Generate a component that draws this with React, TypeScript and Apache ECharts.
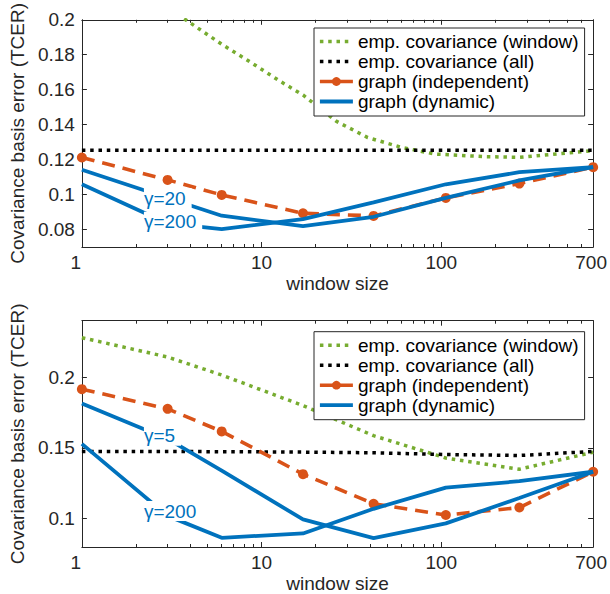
import React, { useEffect, useRef } from "react";
import * as echarts from "echarts";

const FONT = "'Liberation Sans', Arial, Helvetica, sans-serif";
const AXIS_COLOR = "#262626";
const GREEN = "#77AC30";
const BLACK = "#000000";
const ORANGE = "#D95319";
const BLUE = "#0072BD";

const windowSizes = [1, 3, 6, 17, 42, 106, 272, 700];
const xMajorTicks = [1, 10, 100, 700];
const xMinorTicks = [2, 3, 4, 5, 6, 7, 8, 9, 20, 30, 40, 50, 60, 70, 80, 90, 200, 300, 400, 500, 600];

const legendNames = [
  "emp. covariance (window)",
  "emp. covariance (all)",
  "graph (independent)",
  "graph (dynamic)",
];

// top panel
const topYTicks = [0.08, 0.1, 0.12, 0.14, 0.16, 0.18, 0.2];
const topGreenX = [1, 3, 6, 8.6, 12.6, 17, 26, 39, 60, 92, 173, 272, 700];
const topGreen = [0.232, 0.207, 0.186, 0.176, 0.165, 0.157, 0.142, 0.1326, 0.127, 0.1232, 0.1217, 0.1213, 0.1251];
const topAll = [0.1254, 0.1254, 0.1254, 0.1254, 0.1254, 0.1254, 0.1254, 0.1254];
const topIndep = [0.1212, 0.1084, 0.0998, 0.0893, 0.0878, 0.0981, 0.1063, 0.1157];
const topDynA = [0.1142, 0.098, 0.0879, 0.082, 0.0873, 0.0981, 0.1081, 0.1157];
const topDynB = [0.1059, 0.0835, 0.0802, 0.086, 0.0955, 0.1059, 0.1128, 0.1157];
const topLabels = [
  { text: "γ=20", x: 2.2, y: 0.098 },
  { text: "γ=200", x: 2.2, y: 0.0845 },
];

// bottom panel
const botYTicks = [0.1, 0.15, 0.2];
const botGreen = [0.228, 0.2143, 0.2016, 0.18, 0.1587, 0.1429, 0.135, 0.147];
const botAll = [0.1475, 0.1475, 0.1474, 0.1471, 0.1466, 0.1454, 0.1447, 0.1476];
const botIndep = [0.1916, 0.1777, 0.1617, 0.1315, 0.1106, 0.1026, 0.1079, 0.1332];
const botDynA = [0.1814, 0.1564, 0.134, 0.0995, 0.0863, 0.0967, 0.1146, 0.1332];
const botDynB = [0.1529, 0.102, 0.0865, 0.0896, 0.107, 0.122, 0.1265, 0.1332];
const botLabels = [
  { text: "γ=5", x: 2.2, y: 0.1587 },
  { text: "γ=200", x: 2.2, y: 0.1054 },
];

const zip = (xs: number[], ys: number[]) => xs.map((x, i) => [x, ys[i]]);
const fmtNum = (v: number) => String(parseFloat(Number(v).toFixed(3)));
const TICK_FONT = 19;
const DOTTED = [3.5, 4.8];

function xAxesFor(grid: number) {
  const base = {
    gridIndex: grid,
    type: "log",
    logBase: 10,
    min: 1,
    max: 700,
    splitLine: { show: false },
    minorTick: { show: false },
  };
  return [
    {
      ...base,
      position: "bottom",
      name: "window size",
      nameLocation: "middle",
      nameGap: 27,
      nameTextStyle: { fontFamily: FONT, fontSize: TICK_FONT, color: AXIS_COLOR },
      axisLine: { show: true, onZero: false, lineStyle: { color: AXIS_COLOR, width: 1 } },
      axisTick: { show: true, inside: true, length: 5, customValues: xMajorTicks, lineStyle: { color: AXIS_COLOR } },
      axisLabel: {
        show: true,
        customValues: xMajorTicks,
        margin: 6,
        fontFamily: FONT,
        fontSize: TICK_FONT,
        color: AXIS_COLOR,
        formatter: (v: number) => {
          const r = Math.round(v);
          if (r === 1) return "{one|1}";
          if (r === 700) return "{end|700}";
          return String(r);
        },
        rich: {
          one: { fontFamily: FONT, fontSize: TICK_FONT, color: AXIS_COLOR, padding: [0, 12, 0, 0] },
          end: { fontFamily: FONT, fontSize: TICK_FONT, color: AXIS_COLOR, padding: [0, 4, 0, 0] },
        },
      },
    },
    {
      ...base,
      position: "bottom",
      axisLine: { show: false, onZero: false },
      axisTick: { show: true, inside: true, length: 3, customValues: xMinorTicks, lineStyle: { color: AXIS_COLOR } },
      axisLabel: { show: false },
    },
    {
      ...base,
      position: "top",
      axisLine: { show: true, onZero: false, lineStyle: { color: AXIS_COLOR, width: 1 } },
      axisTick: { show: true, inside: true, length: 5, customValues: xMajorTicks, lineStyle: { color: AXIS_COLOR } },
      axisLabel: { show: false },
    },
    {
      ...base,
      position: "top",
      axisLine: { show: false, onZero: false },
      axisTick: { show: true, inside: true, length: 3, customValues: xMinorTicks, lineStyle: { color: AXIS_COLOR } },
      axisLabel: { show: false },
    },
  ];
}

function yAxesFor(grid: number, min: number, max: number, ticks: number[]) {
  const base = { gridIndex: grid, type: "value", min, max, splitLine: { show: false } };
  return [
    {
      ...base,
      position: "left",
      name: "Covariance basis error (TCER)",
      nameLocation: "middle",
      nameGap: 48,
      nameTextStyle: { fontFamily: FONT, fontSize: TICK_FONT, color: AXIS_COLOR },
      axisLine: { show: true, onZero: false, lineStyle: { color: AXIS_COLOR, width: 1 } },
      axisTick: { show: true, inside: true, length: 5, customValues: ticks, lineStyle: { color: AXIS_COLOR } },
      axisLabel: {
        show: true,
        customValues: ticks,
        margin: 7,
        fontFamily: FONT,
        fontSize: TICK_FONT,
        color: AXIS_COLOR,
        formatter: fmtNum,
      },
    },
    {
      ...base,
      position: "right",
      axisLine: { show: true, onZero: false, lineStyle: { color: AXIS_COLOR, width: 1 } },
      axisTick: { show: true, inside: true, length: 5, customValues: ticks, lineStyle: { color: AXIS_COLOR } },
      axisLabel: { show: false },
    },
  ];
}

function seriesFor(
  grid: number,
  greenX: number[],
  green: number[],
  all: number[],
  indep: number[],
  dynA: number[],
  dynB: number[],
  labels: { text: string; x: number; y: number }[]
) {
  const xi = grid * 4;
  const yi = grid * 2;
  return [
    {
      name: legendNames[0],
      type: "line",
      xAxisIndex: xi,
      yAxisIndex: yi,
      data: zip(greenX, green),
      symbol: "none",
      lineStyle: { color: GREEN, width: 3.5, type: DOTTED },
      itemStyle: { color: GREEN },
      z: 2,
    },
    {
      name: legendNames[1],
      type: "line",
      xAxisIndex: xi,
      yAxisIndex: yi,
      data: zip(windowSizes, all),
      symbol: "none",
      lineStyle: { color: BLACK, width: 3.5, type: DOTTED },
      itemStyle: { color: BLACK },
      z: 2,
    },
    {
      name: legendNames[2],
      type: "line",
      xAxisIndex: xi,
      yAxisIndex: yi,
      data: zip(windowSizes, indep),
      symbol: "circle",
      symbolSize: 10,
      showSymbol: true,
      lineStyle: { color: ORANGE, width: 3.6, type: [13, 8] },
      itemStyle: { color: ORANGE },
      z: 3,
    },
    {
      name: legendNames[3],
      type: "line",
      xAxisIndex: xi,
      yAxisIndex: yi,
      data: zip(windowSizes, dynA),
      symbol: "none",
      lineStyle: { color: BLUE, width: 3.8 },
      itemStyle: { color: BLUE },
      z: 4,
    },
    {
      name: legendNames[3],
      type: "line",
      xAxisIndex: xi,
      yAxisIndex: yi,
      data: zip(windowSizes, dynB),
      symbol: "none",
      lineStyle: { color: BLUE, width: 3.8 },
      itemStyle: { color: BLUE },
      z: 4,
    },
    {
      name: "labels" + grid,
      type: "scatter",
      xAxisIndex: xi,
      yAxisIndex: yi,
      data: [],
      z: 6,
      markPoint: {
        symbol: "circle",
        symbolSize: 1,
        itemStyle: { color: "rgba(0,0,0,0)" },
        z: 6,
        label: {
          show: true,
          position: "right",
          distance: 0,
          fontFamily: FONT,
          fontSize: 19,
          color: BLUE,
          backgroundColor: "#ffffff",
          padding: [1, 6, 0, 0],
          formatter: (p: any) => p.name,
        },
        data: labels.map((l) => ({ name: l.text, coord: [l.x, l.y] })),
      },
    },
  ];
}

function legendFor(top: number) {
  return {
    data: [
      { name: legendNames[0], itemStyle: { opacity: 0 }, lineStyle: { width: 3.5, color: GREEN, type: DOTTED } },
      { name: legendNames[1], itemStyle: { opacity: 0 }, lineStyle: { width: 3.5, color: BLACK, type: DOTTED } },
      { name: legendNames[2], lineStyle: { width: 3.6, color: ORANGE, type: "solid" } },
      { name: legendNames[3], itemStyle: { opacity: 0 }, lineStyle: { width: 3.8, color: BLUE, type: "solid" } },
    ],
    orient: "vertical",
    left: 314,
    top,
    padding: [4, 6, 5, 4],
    itemGap: 1,
    itemWidth: 33,
    itemHeight: 11,
    backgroundColor: "#ffffff",
    borderColor: AXIS_COLOR,
    borderWidth: 1,
    borderRadius: 0,
    selectedMode: false,
    textStyle: { fontFamily: FONT, fontSize: 19, color: "#000000" },
    z: 10,
  };
}

export default function App() {
  const ref = useRef<HTMLDivElement>(null);
  useEffect(() => {
    if (!ref.current) return;
    const chart = echarts.init(ref.current, undefined, { renderer: "svg" });
    const option: any = {
      animation: false,
      backgroundColor: "#ffffff",
      textStyle: { fontFamily: FONT },
      grid: [
        { left: 77.3, top: 17.7, width: 516, height: 229.3, containLabel: false },
        { left: 77.3, top: 320.7, width: 516, height: 229.3, containLabel: false },
      ],
      xAxis: [...xAxesFor(0), ...xAxesFor(1)],
      yAxis: [...yAxesFor(0, 0.07, 0.2, topYTicks), ...yAxesFor(1, 0.08, 0.24, botYTicks)],
      legend: [legendFor(28), legendFor(331.7)],
      series: [
        ...seriesFor(0, topGreenX, topGreen, topAll, topIndep, topDynA, topDynB, topLabels),
        ...seriesFor(1, windowSizes, botGreen, botAll, botIndep, botDynA, botDynB, botLabels),
      ],
    };
    chart.setOption(option);
    return () => chart.dispose();
  }, []);
  return (
    <div
      ref={ref}
      style={{ position: "fixed", left: 0, top: 0, width: 610, height: 594, background: "#fff" }}
    />
  );
}
